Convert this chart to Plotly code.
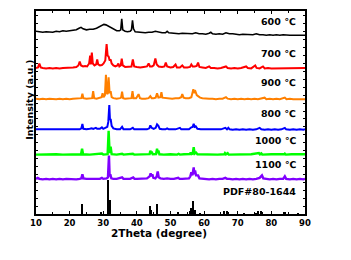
import plotly.graph_objects as go

# ---- data (relative intensity) ----
PTS_600 = [(10, 2.5), (11, 2), (12, 1.5), (13, 2), (14, 2), (15, 1.5), (16, 2.5), (17, 2), (18, 3), (19, 2.5),
           (20, 3), (21, 3.5), (22, 4), (22.8, 5.5), (23.4, 6.5), (24, 5), (25, 4), (26, 4.5), (27, 4.5), (28, 5.5),
           (29, 7), (29.6, 8.5), (30.2, 9.5), (30.8, 9), (31.4, 8), (32, 7), (32.6, 5.5), (33.2, 4.5), (34, 3),
           (34.8, 3), (35.2, 4), (35.5, 15), (35.8, 4), (36.5, 2.5), (37.2, 2), (38, 2.5), (38.4, 4), (38.7, 13.5),
           (39.0, 5), (39.5, 2), (40.5, 1.5), (41.5, 1.5), (42.5, 1), (43.5, 1.5), (44.5, 1.5), (45.5, 2.5),
           (46.5, 1.5), (47.5, 1), (48.5, 1), (49, 2.5), (49.5, 1), (50.5, 0.5), (51.5, 0.5), (52.5, 0), (53.5, 0.5),
           (54.5, 0.5), (55.5, 0), (56.5, 0), (57.5, 1), (58.5, 0), (59.5, 0), (60.5, -0.5), (61.5, 0.5), (62, 1.5),
           (62.5, 0), (63.5, -0.5), (64.5, 0), (65.5, -0.5), (66.5, 1), (67.5, 0), (68.5, 0), (69.5, -0.5),
           (70.5, -1), (71.5, -0.5), (72.5, -0.5), (73.5, -1), (74.5, -1), (75.5, 0), (76.5, -1), (77.5, -1),
           (78.5, -1.5), (79.5, -1), (80.5, -1.5), (81.5, -1), (82.5, -1.5), (83.5, -1), (84.5, -1.5), (85.5, -1.5),
           (86.5, -1.5), (87.5, -1.5), (88.5, -1.5), (89.5, -1.5), (90, -1.5)]

PTS_700 = [(10, 0.5), (10.6, 1), (11, 5), (11.4, 1), (12, 0.5), (13, 0), (14, 0.5), (15, 0), (16, 0.5), (17, 0),
           (18, 0.5), (19, 0.5), (20, 0.5), (21, 1), (22, 1.5), (22.6, 3), (23, 7), (23.4, 3), (24, 2), (24.6, 2.5),
           (25.2, 2), (25.8, 5), (26.1, 13), (26.3, 4), (26.6, 16), (26.9, 5), (27.4, 3), (27.9, 4), (28.2, 9),
           (28.5, 4), (29, 3), (29.6, 3.5), (30.1, 5), (30.6, 8), (31.0, 24.5), (31.3, 13), (31.6, 12), (31.9, 8),
           (32.2, 9), (32.5, 5), (33, 3), (33.6, 2), (34.2, 3), (34.5, 5), (34.8, 2), (35.2, 3), (35.5, 10),
           (35.8, 3), (36.5, 1.5), (37.5, 1.5), (38.4, 2), (38.8, 9), (39.2, 2), (40, 1.5), (41, 1), (42, 1.5),
           (43, 2), (43.5, 5), (43.9, 2), (44.5, 2), (45, 3), (45.5, 10), (45.9, 4), (46.5, 2), (47.5, 1.5),
           (48.2, 2), (48.6, 6), (49, 2), (50, 1), (50.8, 1.5), (51.5, 4), (51.9, 1), (52.8, 1), (53.5, 3), (54, 1),
           (55, 1), (55.8, 1.5), (56.2, 4), (56.6, 2), (57.2, 2), (57.8, 2.5), (58.2, 6), (58.6, 1.5), (59.5, 1),
           (60.5, 0.5), (61.5, 2), (62, 0.5), (63, 0.5), (64, 0), (65, 0.5), (66.5, 2), (67, 0.5), (68, 0),
           (69, 0.5), (70, 0), (71, 0.5), (72.5, 2), (73, 0.5), (74, 0), (75.2, 3), (75.6, 0.5), (76.5, 0),
           (77.5, 2), (78, 0), (79, 0.5), (80, 0), (81, 0), (82, 0.5), (83, 0), (84, 0.5), (85, 0), (86, 0),
           (87, 0.5), (88, 0), (89, 0), (90, 0.5)]

PTS_900 = [(10, 0.5), (11, 0), (12, 0.5), (13, 0), (14, 0.5), (15, 0), (16, 0), (17, 0.5), (18, 0), (19, 0.5),
           (20, 0), (21, 0.5), (22, 0.5), (23, 0.5), (23.5, 1), (23.8, 5.5), (24.1, 1), (25, 0.5), (26, 0.5),
           (26.7, 1), (27, 8), (27.3, 1), (28, 0.5), (29, 1), (29.5, 2), (29.8, 6), (30.1, 2), (30.5, 4),
           (30.8, 24.5), (31.1, 6), (31.3, 5), (31.6, 22), (31.9, 6), (32.2, 8), (32.5, 2), (33, 1), (34, 0.5),
           (35, 1), (35.3, 1.5), (35.6, 7.5), (35.9, 1), (36.5, 0.5), (37.5, 0.5), (38.4, 1), (38.7, 8), (39, 1),
           (39.8, 1), (40.5, 5), (40.9, 1), (41.5, 0.5), (42.5, 0.5), (43.5, 1), (44, 3), (44.4, 1), (45, 1),
           (45.6, 1.5), (46, 6), (46.4, 1.5), (47, 2), (47.3, 7), (47.6, 1.5), (48.5, 1), (49.5, 0.5), (50.5, 0.5),
           (51.5, 1), (52.5, 1), (53.2, 2), (53.5, 5), (53.9, 1.5), (54.5, 1), (55.5, 1), (56.2, 2), (56.8, 10),
           (57.1, 7), (57.4, 8), (57.8, 4), (58.2, 3), (58.8, 1.5), (59.5, 1), (60.5, 0.5), (61.5, 0.5), (62.5, 0.5),
           (63.5, 0), (64.5, 0.5), (65.5, 0.5), (66.5, 2), (67, 0.5), (68, 0), (69, 0.5), (70, 0), (71, 0.5),
           (72, 0), (73, 0.5), (74, 0), (75, 0.5), (76, 0), (77, 0.5), (78, 1.5), (78.5, 0), (79.5, 0.5), (80.5, 0),
           (81.5, 0.5), (82.5, 0), (83.5, 0.5), (84, 1.5), (84.5, 0), (85.5, 0.5), (86.5, 0), (87.5, 0),
           (88.5, 0.5), (89.5, 0), (90, 0)]

PTS_800 = [(10, 0.5), (11, 0.5), (12, 0), (13, 0.5), (14, 0), (15, 0.5), (16, 0), (17, 0.5), (18, 0), (19, 0.5),
           (20, 0.5), (21, 0), (22, 0.5), (23, 0.5), (23.5, 1.5), (23.8, 6), (24.1, 1), (25, 0.5), (26, 1),
           (26.6, 1.5), (27, 1), (27.8, 2), (28.2, 1), (29, 1), (29.6, 2.5), (30, 1), (30.6, 2), (31.2, 3),
           (31.5, 8), (31.8, 25), (32.0, 10), (32.2, 11), (32.5, 4), (33, 1.5), (34, 0.5), (35, 0.5), (35.6, 3),
           (36, 0.5), (37, 0.5), (38, 0.5), (38.8, 2), (39.2, 0.5), (40, 0.5), (41, 0.5), (42, 0.5), (43, 0.5),
           (43.7, 1.5), (44, 4.5), (44.4, 2), (45, 1), (45.6, 2), (46, 5.5), (46.4, 4), (46.8, 1), (47.5, 0.5),
           (48.5, 0.5), (49, 1.5), (49.5, 0.5), (50.5, 0.5), (51.5, 0.5), (52.8, 2), (53.2, 0.5), (54.5, 0.5),
           (55.5, 0.5), (56.2, 2.5), (56.6, 3), (56.9, 6), (57.2, 3), (57.5, 3.5), (58, 1), (59, 0.5), (60, 0.5),
           (61, 0), (62, 0.5), (63, 0), (64, 0.5), (65, 0.5), (66.3, 2), (66.8, 0.5), (67.2, 2), (67.6, 0.5),
           (68.5, 0), (69.5, 0.5), (70.5, 0), (71.5, 0.5), (72.5, 0), (73.5, 0.5), (74.5, 0), (75.5, 0.5),
           (76.5, 2), (77, 0.5), (78, 0), (79, 0.5), (80, 0), (81, 0.5), (82, 0), (83, 0.5), (84, 2), (84.4, 0.5),
           (85.5, 0), (86.5, 0.5), (87.5, 0), (88.5, 0.5), (89.5, 0), (90, 0.5)]

PTS_1000 = [(10, 0), (12, 0.3), (14, 0), (16, 0.3), (18, 0), (20, 0.3), (22, 0), (23.4, 0.3), (23.7, 6), (24, 0.3),
            (26, 0), (28, 0.3), (29.6, 1), (30, 0), (31.3, 0.5), (31.6, 24), (31.9, 1.5), (32.2, 8), (32.5, 0.5),
            (34, 0), (35.6, 0.8), (36, 0), (38, 0.3), (38.8, 0.8), (39.2, 0), (41, 0.3), (43, 0), (43.8, 0.5),
            (44, 4), (44.2, 1), (44.4, 3), (44.7, 0.3), (45.7, 0.5), (46, 6), (46.2, 1.5), (46.4, 4), (46.7, 0.3),
            (48, 0), (50, 0.3), (52, 0), (52.4, 0.8), (52.8, 0), (54, 0.3), (55.8, 0.5), (56, 2), (56.3, 0.5),
            (56.6, 1), (56.9, 7.5), (57.2, 1), (57.6, 2), (58, 0.3), (60, 0), (62, 0.3), (64, 0), (66, 0.3),
            (66.2, 1.5), (66.5, 0.3), (67, 1.5), (67.3, 0), (70, 0.3), (72, 0), (74, 0.3), (76.3, 1.5), (76.6, 0.3),
            (77, 1.2), (77.3, 0), (80, 0.3), (82, 0), (83.8, 0.3), (84, 1), (84.3, 0), (86, 0.3), (88, 0), (90, 0.3)]

PTS_1100 = [(10, 0.5), (10.5, 1.5), (11, 0.5), (12, 0), (13, 0.5), (14, 0), (15, 0.5), (16, 0), (17, 0.5), (18, 0),
            (19, 0.5), (20, 0.3), (21, 0.5), (22, 0), (23, 0.5), (23.5, 1), (23.8, 5), (24.1, 1), (25, 0.5),
            (26, 0.5), (27, 0.5), (28, 1), (29, 0.5), (29.6, 1.5), (30, 0.5), (31, 1), (31.4, 2), (31.7, 24),
            (31.9, 3), (32.1, 5), (32.4, 1), (33, 0.5), (34, 0.5), (35.6, 2), (36, 0.5), (37, 0.5), (38, 0.5),
            (38.9, 2), (39.3, 0.5), (40, 0.5), (41, 0.5), (42, 0.5), (43, 1), (43.8, 3), (44.1, 6), (44.4, 3),
            (44.6, 5), (44.9, 1.5), (45.5, 1), (45.9, 3), (46.2, 8), (46.5, 2), (47, 1), (48, 0.5), (49, 1),
            (50, 0.5), (51, 0.5), (52.3, 1.5), (52.7, 0.5), (53.5, 0.5), (54.5, 1), (55.5, 1), (55.9, 3), (56.2, 7),
            (56.5, 4), (56.9, 12), (57.1, 5), (57.3, 9), (57.6, 4), (58.2, 4), (58.6, 1), (59.5, 0.5), (60.5, 0.5),
            (61.5, 0), (62.5, 0.5), (63.5, 0), (64.5, 0.5), (65.5, 0.5), (66.3, 1.5), (66.8, 0.5), (67.5, 0.5),
            (68.5, 0), (69.5, 0.5), (70.5, 0), (71.5, 0.5), (72.5, 0), (73.5, 0.5), (74.5, 0), (75.5, 0.5),
            (76.5, 1.5), (77.2, 4), (77.6, 1), (78.5, 0.5), (79.5, 0), (80.5, 0.5), (81.5, 0), (82.5, 0.5),
            (83.5, 0.5), (84, 3), (84.4, 0.5), (85.5, 0), (86.5, 0.5), (87.5, 0), (88.5, 0.5), (89.5, 0), (90, 0.5)]

PDF_POS = [23.7, 29.4, 31.6, 32.1, 43.9, 44.3, 46.1, 52.4, 55.8, 56.1, 56.9, 57.5, 58.8, 66.0, 66.9, 67.3,
           72.0, 75.5, 76.2, 76.9, 77.2, 83.8, 84.2, 88.0]
PDF_INT = [10, 1.5, 34, 14.5, 8, 4, 10.5, 2, 3, 6, 13, 4, 1, 3, 3, 2, 1, 1, 3, 3, 2, 2, 2, 1]

LABELS = ["600 ℃", "700 ℃", "900 ℃", "800 ℃", "1000 ℃", "1100 ℃"]
SERIES = [PTS_600, PTS_700, PTS_900, PTS_800, PTS_1000, PTS_1100]
PDF_LABEL = "PDF#80-1644"
X_TICKS = [10, 20, 30, 40, 50, 60, 70, 80, 90]

# ---- styling (vertical stacking offsets, colours, label positions) ----
OFFSETS = [182, 147, 116, 85, 60, 35]
COLORS = ["#000000", "#ff0000", "#ff8000", "#0000ff", "#00ff00", "#8000ff"]
WIDTHS = [1.6, 2.0, 2.0, 2.0, 2.4, 2.4]
LABEL_Y = [194, 162, 133, 102, 74, 50]
PDF_LABEL_Y = 23

FONT = "DejaVu Sans"

fig = go.Figure()

fig.add_trace(go.Bar(x=PDF_POS, y=PDF_INT, width=0.45, marker=dict(color="#000000", line=dict(width=0)),
                     showlegend=False))

for pts, off, col, w in zip(reversed(SERIES), reversed(OFFSETS), reversed(COLORS), reversed(WIDTHS)):
    xs = [p[0] for p in pts]
    ys = [p[1] + off for p in pts]
    fig.add_trace(go.Scatter(x=xs, y=ys, mode="lines", line=dict(color=col, width=w), showlegend=False))

for lab, ly in zip(LABELS, LABEL_Y):
    fig.add_annotation(x=88, y=ly, text=lab, showarrow=False, xanchor="right", yanchor="middle",
                       font=dict(family=FONT, size=9.5, color="#000000", weight="bold"))
fig.add_annotation(x=88, y=PDF_LABEL_Y, text=PDF_LABEL, showarrow=False, xanchor="right", yanchor="middle",
                   font=dict(family=FONT, size=9.5, color="#000000", weight="bold"))

fig.add_annotation(xref="paper", yref="paper", x=0.458, y=-0.093, text="2Theta (degree)", showarrow=False,
                   xanchor="center", yanchor="middle",
                   font=dict(family=FONT, size=10.5, color="#000000", weight="bold"))
fig.add_annotation(xref="paper", yref="paper", x=-0.027, y=0.561, text="Intensity (a.u.)", showarrow=False,
                   textangle=-90, xanchor="center", yanchor="middle",
                   font=dict(family=FONT, size=9.5, color="#000000", weight="bold"))

# page body has an 8px default margin, so the figure is sized/offset to compensate
fig.update_layout(
    width=343, height=252,
    margin=dict(l=28, r=46, t=1, b=46),
    paper_bgcolor="white", plot_bgcolor="white",
    bargap=0,
    showlegend=False,
)
fig.update_xaxes(range=[10, 90], tickvals=X_TICKS, ticktext=[str(v) for v in X_TICKS],
                 showline=True, linecolor="black", linewidth=1.5, mirror="ticks",
                 ticks="inside", ticklen=3, tickwidth=1.2, tickcolor="black",
                 minor=dict(dtick=5, tick0=5, ticks="inside", ticklen=2, tickcolor="black", tickwidth=1),
                 showgrid=False, zeroline=False,
                 tickfont=dict(family=FONT, size=8.5, color="#000000", weight="bold"))
fig.update_yaxes(range=[0, 205], showline=True, linecolor="black", linewidth=1.5, mirror="ticks",
                 ticks="inside", ticklen=2, tickwidth=1, tickcolor="black", dtick=8, tick0=0,
                 showticklabels=False, showgrid=False, zeroline=False)

fig.write_html("out.html")
